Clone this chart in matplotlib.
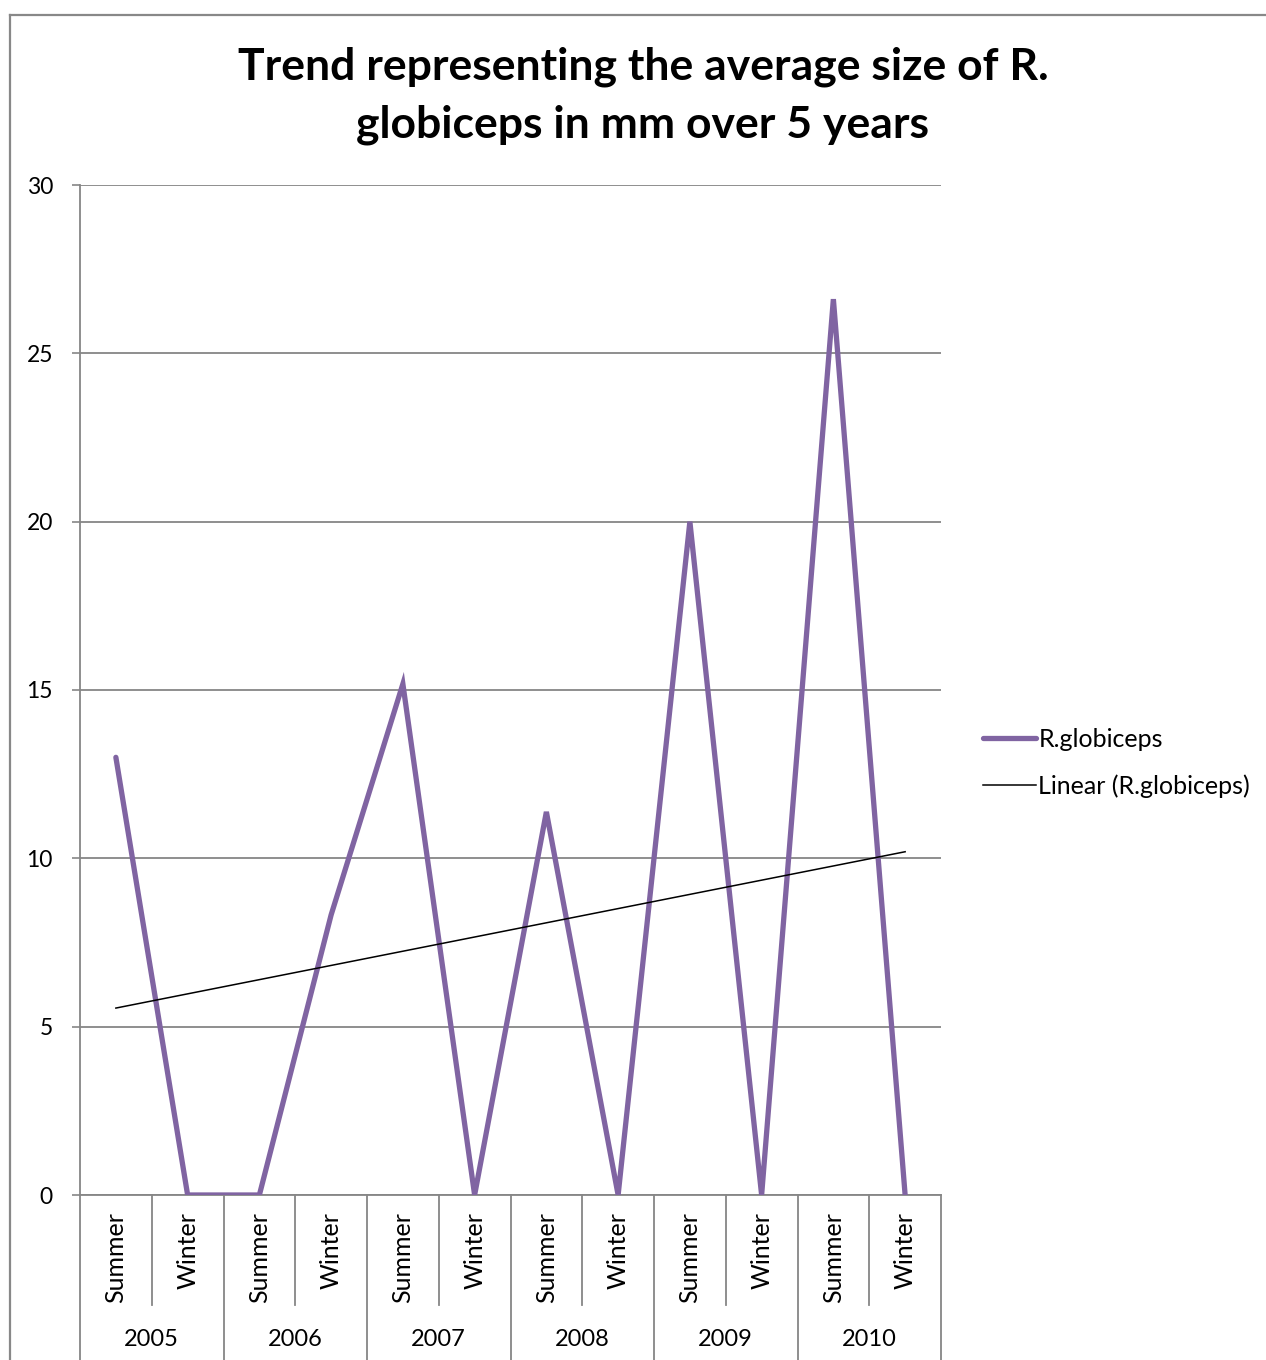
import matplotlib
matplotlib.use("Agg")
import matplotlib.pyplot as plt
import matplotlib.transforms as mtransforms
from matplotlib.lines import Line2D
import numpy as np

plt.rcParams['font.family'] = ['Lato', 'DejaVu Sans']

# Data
years = ["2005", "2006", "2007", "2008", "2009", "2010"]
seasons = ["Summer", "Winter"]
sizes_mm = [13.0, 0.0, 0.0, 8.32, 15.18, 0.0, 11.38, 0.0, 20.0, 0.0, 26.61, 0.0]
y_ticks = [0, 5, 10, 15, 20, 25, 30]

series_name = "R.globiceps"
purple = "#8064A2"
grid_gray = "#868686"

W, H = 1266, 1360
fig = plt.figure(figsize=(W / 100, H / 100), dpi=100)

left, right, top, bottom = 80, 941, 185, 1195
ax = fig.add_axes([left / W, 1 - bottom / H, (right - left) / W, (bottom - top) / H])

n = len(sizes_mm)
x = np.arange(n)
line_main, = ax.plot(x, sizes_mm, color=purple, lw=3.8, solid_joinstyle='miter',
                     solid_capstyle='round', zorder=3)

# Linear trend fitted over category index
coef = np.polyfit(x + 1, sizes_mm, 1)
trend = np.polyval(coef, x + 1)
line_trend, = ax.plot(x, trend, color='black', lw=1.1, zorder=4)

ax.set_xlim(-0.5, n - 0.5)
ax.set_ylim(0, 30)
ax.set_yticks(y_ticks)
ax.set_yticklabels([str(t) for t in y_ticks])
ax.yaxis.grid(True, color=grid_gray, lw=1.3)
ax.set_axisbelow(True)
ax.tick_params(axis='y', length=6, width=1.2, color=grid_gray, pad=13.5, labelsize=16.5)
ax.set_xticks([])
for s in ['top', 'right']:
    ax.spines[s].set_visible(False)
for s in ['left', 'bottom']:
    ax.spines[s].set_color(grid_gray)
    ax.spines[s].set_linewidth(1.3)

# Multi-level category axis drawn below the plot
blend = mtransforms.blended_transform_factory(ax.transData, ax.transAxes)
inner_bottom = -(1305 - bottom) / (bottom - top)
outer_bottom = -(H - bottom + 5) / (bottom - top)
for k in range(n + 1):
    xs = k - 0.5
    yb = outer_bottom if k % 2 == 0 else inner_bottom
    ax.add_line(Line2D([xs, xs], [0, yb], transform=blend, color=grid_gray,
                       lw=1.3, clip_on=False))
season_top = -(1212 - bottom) / (bottom - top)
for i in range(n):
    ax.text(i, season_top, seasons[i % 2], transform=blend, rotation=90,
            ha='center', va='top', fontsize=18)
year_y = -(1340 - bottom) / (bottom - top)
for j, yr in enumerate(years):
    ax.text(2 * j + 0.5, year_y, yr, transform=blend, ha='center', va='center',
            fontsize=17)

# Title
fig.text(643 / W, 1 - 67 / H, "Trend representing the average size of R.",
         ha='center', va='center', fontsize=32, fontweight='bold')
fig.text(643 / W, 1 - 125 / H, "globiceps in mm over 5 years",
         ha='center', va='center', fontsize=32, fontweight='bold')

# Legend
fig.legend([line_main, line_trend], [series_name, "Linear (%s)" % series_name],
           loc='center left', bbox_to_anchor=(983 / W, 1 - 763 / H),
           frameon=False, fontsize=18, handlelength=2.1, handletextpad=0.12,
           labelspacing=0.95, borderaxespad=0, borderpad=0)

# Chart area border
fig.add_artist(Line2D([10 / W, 10 / W], [0, 1 - 15 / H], transform=fig.transFigure,
                      color="#888888", lw=1.6))
fig.add_artist(Line2D([10 / W, 1], [1 - 15 / H, 1 - 15 / H], transform=fig.transFigure,
                      color="#888888", lw=1.6))

fig.savefig("out.png", dpi=100)
